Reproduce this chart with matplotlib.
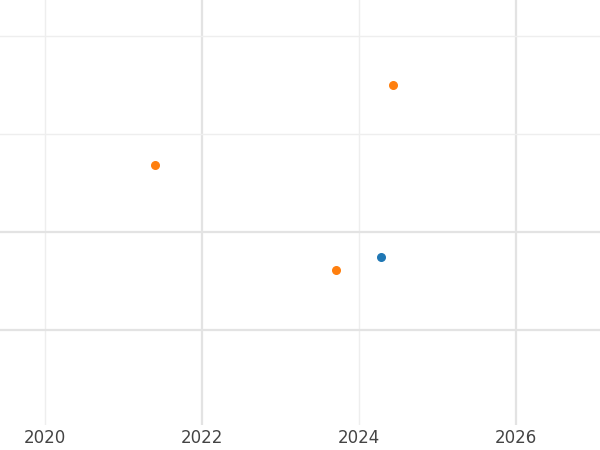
import matplotlib
matplotlib.use("Agg")
import matplotlib.pyplot as plt

orange_x = [2021.41, 2023.71, 2024.43]
orange_y = [2.68, 1.61, 3.50]
blue_x = [2024.28]
blue_y = [1.745]
xticks = [2020, 2022, 2024, 2026]

fig = plt.figure(figsize=(6, 4.5), dpi=100)
ax = fig.add_axes([0, 25/450, 1, 425/450])
ax.set_xlim(2019.43, 2027.07)
ax.set_ylim(0.031, 4.367)
for x, c, lw in zip(xticks, ['#eeeeee', '#e3e3e3', '#eeeeee', '#e3e3e3'], [1, 1.6, 1, 1.6]):
    ax.axvline(x, color=c, lw=lw, zorder=0)
for y, c, lw in zip([1, 2, 3, 4], ['#e3e3e3', '#e3e3e3', '#eeeeee', '#eeeeee'], [1.6, 1.6, 1, 1]):
    ax.axhline(y, color=c, lw=lw, zorder=0)
ax.scatter(orange_x, orange_y, color='#ff7f0e', s=30, zorder=3)
ax.scatter(blue_x, blue_y, color='#1f77b4', s=30, zorder=3)
ax.set_xticks(xticks)
ax.set_xticklabels([str(t) for t in xticks], fontsize=12, color='#444444')
ax.set_yticks([])
ax.tick_params(axis='x', length=0, pad=3)
for s in ax.spines.values():
    s.set_visible(False)
fig.savefig('out.png')
